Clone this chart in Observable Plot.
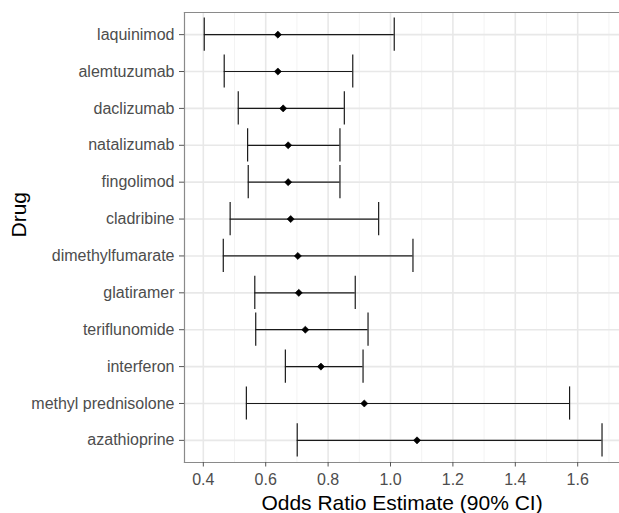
<!DOCTYPE html>
<html>
<head>
<meta charset="utf-8">
<script src="https://cdn.jsdelivr.net/npm/d3@7"></script>
<script src="https://cdn.jsdelivr.net/npm/@observablehq/plot@0.6"></script>
<style>
  html, body { margin: 0; padding: 0; background: white; overflow: hidden; }
</style>
</head>
<body>
<div id="chart"></div>
<script>
const drugs = ["laquinimod", "alemtuzumab", "daclizumab", "natalizumab", "fingolimod", "cladribine",
  "dimethylfumarate", "glatiramer", "teriflunomide", "interferon", "methyl prednisolone", "azathioprine"];
const estimate = [0.639, 0.639, 0.656, 0.672, 0.672, 0.680, 0.703, 0.706, 0.727, 0.777, 0.916, 1.085];
const lower    = [0.403, 0.467, 0.512, 0.542, 0.544, 0.486, 0.464, 0.565, 0.568, 0.663, 0.538, 0.701];
const upper    = [1.012, 0.879, 0.852, 0.838, 0.838, 0.962, 1.072, 0.887, 0.928, 0.912, 1.574, 1.678];
const xTicks = [0.4, 0.6, 0.8, 1.0, 1.2, 1.4, 1.6];
const xMinor = [0.5, 0.7, 0.9, 1.1, 1.3, 1.5, 1.7];
const xTitle = "Odds Ratio Estimate (90% CI)";
const yTitle = "Drug";

const data = drugs.map((d, i) => ({drug: d, est: estimate[i], lo: lower[i], hi: upper[i]}));

const chart = Plot.plot({
  width: 619,
  height: 513,
  marginLeft: 184,
  marginTop: 12,
  marginRight: 0,
  marginBottom: 51,
  style: {fontFamily: "'Liberation Sans', Arial, sans-serif", background: "white"},
  x: {domain: [0.3397, 1.734]},
  y: {domain: drugs, type: "band", paddingInner: 0, paddingOuter: 0.1, round: false},
  marks: [
    Plot.gridX(xMinor, {stroke: "#f3f3f3", strokeOpacity: 1, strokeWidth: 1}),
    Plot.gridX(xTicks, {stroke: "#e8e8e8", strokeOpacity: 1, strokeWidth: 1.6}),
    Plot.gridY({stroke: "#e8e8e8", strokeOpacity: 1, strokeWidth: 1.6}),
    Plot.frame({anchor: "top", stroke: "#8a8a8a", strokeWidth: 1.2}),
    Plot.frame({anchor: "left", stroke: "#8a8a8a", strokeWidth: 1.2}),
    Plot.frame({anchor: "bottom", stroke: "#8a8a8a", strokeWidth: 1.2}),
    Plot.axisX(xTicks, {tickSize: 4.5, tickPadding: 7, tickFormat: d3.format(".1f"), fontSize: 16,
      fill: "#4d4d4d", stroke: "#555", label: null}),
    Plot.axisY({tickSize: 5, tickPadding: 5, fontSize: 16, fill: "#4d4d4d", stroke: "#555", label: null}),
    Plot.ruleY(data, {y: "drug", x1: "lo", x2: "hi", stroke: "#1a1a1a", strokeWidth: 1.2}),
    Plot.tickX(data, {x: "lo", y: "drug", insetTop: 1.85, insetBottom: 1.85, stroke: "#1a1a1a", strokeWidth: 1.2}),
    Plot.tickX(data, {x: "hi", y: "drug", insetTop: 1.85, insetBottom: 1.85, stroke: "#1a1a1a", strokeWidth: 1.2}),
    Plot.dot(data, {x: "est", y: "drug", symbol: "diamond2", r: 3.2, fill: "#000", stroke: "#000", strokeWidth: 0.6}),
    Plot.text([xTitle], {frameAnchor: "bottom", dy: 40.5, fontSize: 21, fill: "#000", lineAnchor: "middle"}),
    Plot.text([yTitle], {frameAnchor: "left", dx: -165.7, rotate: -90, fontSize: 21, fill: "#000", lineAnchor: "middle"})
  ]
});
document.getElementById("chart").appendChild(chart);
</script>
</body>
</html>
